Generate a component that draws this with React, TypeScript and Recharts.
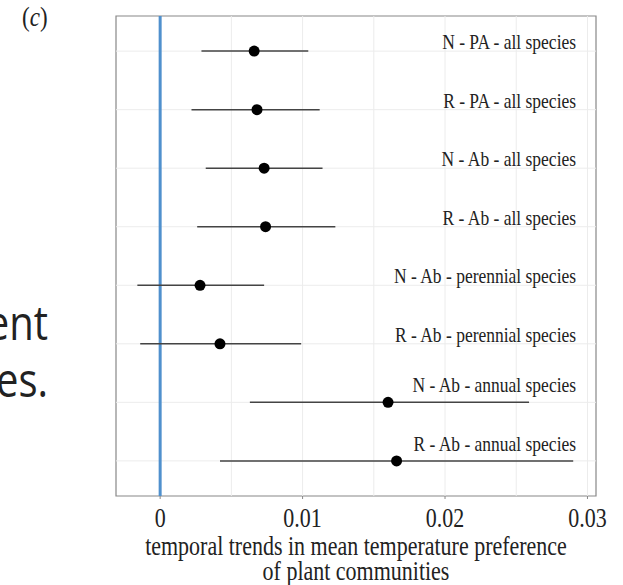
import React from "react";
import {
  ScatterChart,
  Scatter,
  XAxis,
  YAxis,
  ErrorBar,
  ReferenceLine,
  ReferenceArea,
} from "recharts";

// model terms, top to bottom
const terms = [
  "N - PA - all species",
  "R - PA - all species",
  "N - Ab - all species",
  "R - Ab - all species",
  "N - Ab - perennial species",
  "R - Ab - perennial species",
  "N - Ab - annual species",
  "R - Ab - annual species",
];
const estimates = [0.0066, 0.0068, 0.0073, 0.0074, 0.0028, 0.0042, 0.016, 0.0166];
const lower = [0.0029, 0.0022, 0.0032, 0.0026, -0.0016, -0.0014, 0.0063, 0.0042];
const upper = [0.0104, 0.0112, 0.0114, 0.0123, 0.0073, 0.0099, 0.0259, 0.029];

const xTicks = [0, 0.01, 0.02, 0.03];
const xMinor = [0.005, 0.015, 0.025];
const labelX = 0.0292;

const X_DOMAIN: [number, number] = [-0.0031, 0.0306];
const Y_DOMAIN: [number, number] = [0.4, 8.6];

const points = terms.map((t, i) => ({
  term: t,
  x: estimates[i],
  y: i + 1,
  err: [estimates[i] - lower[i], upper[i] - estimates[i]],
}));

const labels = terms.map((t, i) => ({
  term: t,
  x: labelX,
  y: i + 1,
  lifted: upper[i] > labelX - 0.005,
}));

const serif = "'Liberation Serif', 'Times New Roman', serif";
const STRETCH = 1.2; // the source picture is a bit taller than wide

// svg text drawn from its baseline, stretched vertically
const Txt = ({ x, y, size, anchor, children }: any) => (
  <text
    transform={`translate(${x},${y}) scale(1,${STRETCH})`}
    textAnchor={anchor}
    fontFamily={serif}
    fontSize={size}
    fill="#222"
  >
    {children}
  </text>
);

const Dot = (p: any) => <circle cx={p.cx} cy={p.cy} r={5.5} fill="#000" />;

const TermLabel = (p: any) => (
  <Txt x={p.cx} y={p.cy - (p.payload.lifted ? 10 : 2)} size={17.5} anchor="end">
    {p.payload.term}
  </Txt>
);

const Tick = (p: any) => (
  <Txt x={p.x} y={p.y + 16} size={22} anchor="middle">
    {String(p.payload.value)}
  </Txt>
);

const AxisTitle = (p: any) => {
  const vb = p.viewBox;
  const cx = vb.x + vb.width / 2;
  return (
    <g>
      <Txt x={cx} y={555} size={22} anchor="middle">
        temporal trends in mean temperature preference
      </Txt>
      <Txt x={cx} y={580} size={22} anchor="middle">
        of plant communities
      </Txt>
    </g>
  );
};

export default function App() {
  return (
    <div style={{ position: "absolute", left: 0, top: 0, width: 623, height: 585, background: "#fff", overflow: "hidden" }}>
      <div
        style={{
          position: "absolute",
          left: 22,
          top: 2,
          fontFamily: serif,
          fontSize: 23,
          color: "#222",
          transform: `scaleY(${STRETCH})`,
          transformOrigin: "0 0",
        }}
      >
        (<i>c</i>)
      </div>
      <div
        style={{
          position: "absolute",
          left: -300,
          top: 293,
          width: 348,
          textAlign: "right",
          fontFamily: "'Open Sans', sans-serif",
          fontSize: 40,
          lineHeight: "48px",
          color: "#222",
          transform: `scaleY(${STRETCH})`,
          transformOrigin: "0 0",
        }}
      >
        ent
        <br />
        es.
      </div>
      <ScatterChart
        width={623}
        height={585}
        margin={{ top: 16, right: 27, left: 116, bottom: 0 }}
        style={{ position: "absolute", left: 0, top: 0 }}
      >
        <XAxis
          type="number"
          dataKey="x"
          domain={X_DOMAIN}
          allowDataOverflow
          ticks={xTicks}
          height={89}
          axisLine={false}
          tickLine={{ stroke: "#888" }}
          tickSize={3}
          tickMargin={12}
          tick={<Tick />}
          label={<AxisTitle />}
        />
        <YAxis type="number" dataKey="y" domain={Y_DOMAIN} reversed hide width={0} />
        {[...xTicks, ...xMinor].map((v) => (
          <ReferenceLine key={"gx" + v} x={v} stroke="#ececec" strokeWidth={1} />
        ))}
        {points.map((p) => (
          <ReferenceLine key={"gy" + p.y} y={p.y} stroke="#ececec" strokeWidth={1} />
        ))}
        <ReferenceArea
          x1={X_DOMAIN[0]}
          x2={X_DOMAIN[1]}
          y1={Y_DOMAIN[0]}
          y2={Y_DOMAIN[1]}
          fill="none"
          stroke="#888"
          strokeWidth={1.2}
        />
        <ReferenceLine x={0} stroke="#4f90cd" strokeWidth={3} />
        <Scatter data={labels} shape={<TermLabel />} isAnimationActive={false} />
        <Scatter data={points} shape={<Dot />} isAnimationActive={false}>
          <ErrorBar dataKey="err" direction="x" width={0} stroke="#444" strokeWidth={1.5} />
        </Scatter>
      </ScatterChart>
    </div>
  );
}
